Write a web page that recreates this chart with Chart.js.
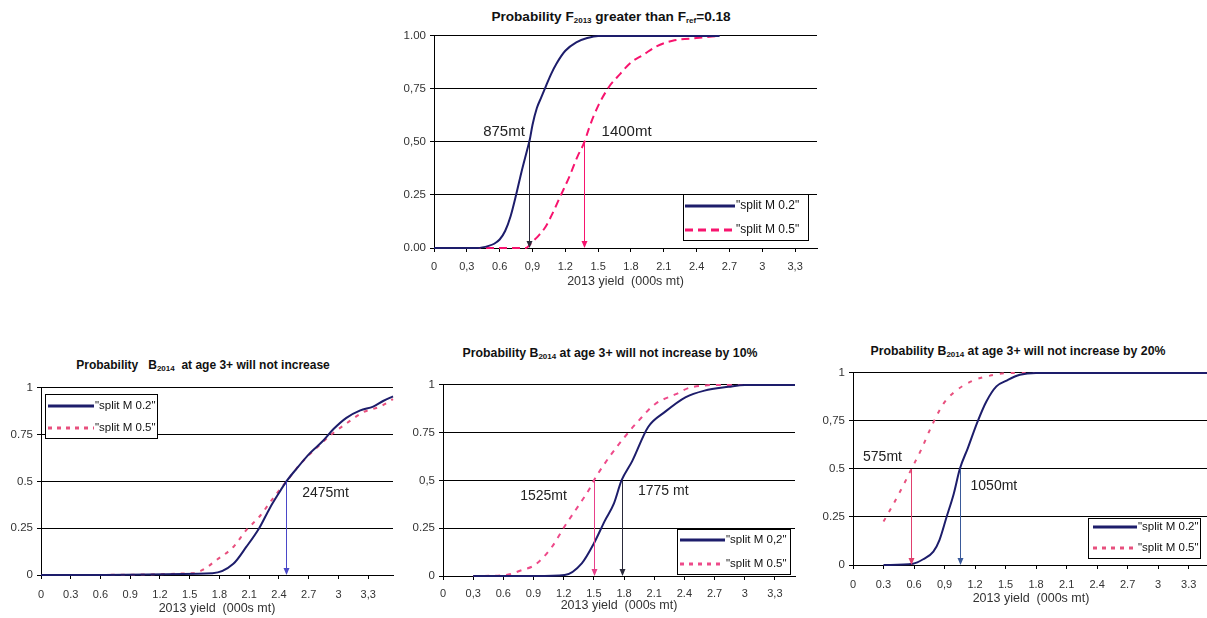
<!DOCTYPE html>
<html><head><meta charset="utf-8">
<script src="https://cdn.jsdelivr.net/npm/chart.js@4.4.1/dist/chart.umd.min.js"></script>
<style>
html,body{margin:0;padding:0;background:#fff;}
body{width:1207px;height:618px;overflow:hidden;position:relative;font-family:"Liberation Sans",Arial,sans-serif;}
.box{position:absolute;}
.box canvas{display:block;}
.title{position:absolute;font-weight:bold;font-size:12.3px;color:#111;white-space:nowrap;transform:translate(-50%,-50%);line-height:14px;}
.title.big{font-size:13.6px;}
.title.bl{font-size:12px;}
.title sub{font-size:8px;vertical-align:-2px;line-height:0;}
</style></head><body>
<div class="title big" style="left:611px;top:17px">Probability F<sub>2013</sub> greater than F<sub>ref</sub>=0.18</div>
<div class="title bl" style="left:203px;top:365px">Probability&nbsp;&nbsp; B<sub>2014</sub>&nbsp; at age 3+ will not increase</div>
<div class="title" style="left:610px;top:353px">Probability B<sub>2014</sub> at age 3+ will not increase by 10%</div>
<div class="title" style="left:1018px;top:351px">Probability B<sub>2014</sub> at age 3+ will not increase by 20%</div>

<div class="box" style="left:380px;top:25px"><canvas id="cTop" width="450" height="264"></canvas></div>
<div class="box" style="left:0px;top:377px"><canvas id="cBL" width="403" height="239"></canvas></div>
<div class="box" style="left:410px;top:374px"><canvas id="cBM" width="395" height="239"></canvas></div>
<div class="box" style="left:810px;top:362px"><canvas id="cBR" width="399" height="244"></canvas></div>

<script>
// ---------- shared axis values ----------
const xTickValues = [0, 0.3, 0.6, 0.9, 1.2, 1.5, 1.8, 2.1, 2.4, 2.7, 3.0, 3.3];
const yTickValues = [0, 0.25, 0.5, 0.75, 1];
const xAxisTitle = '2013 yield  (000s mt)';

// ---------- top chart: Probability F2013 > Fref ----------
const topXLabels = ['0', '0,3', '0.6', '0,9', '1.2', '1.5', '1.8', '2.1', '2.4', '2.7', '3', '3,3'];
const topYLabels = ['0.00', '0.25', '0,50', '0,75', '1.00'];
const topLegend = ['"split M 0.2"', '"split M 0.5"'];
const topM02x = [0, 0.4, 0.5, 0.55, 0.6, 0.65, 0.7, 0.75, 0.8, 0.85, 0.875, 0.9, 0.94, 0.98, 1.02, 1.07, 1.12, 1.2, 1.3, 1.4, 1.5, 2.61];
const topM02y = [0, 0, 0.01, 0.02, 0.04, 0.08, 0.15, 0.25, 0.36, 0.46, 0.51, 0.58, 0.66, 0.71, 0.76, 0.82, 0.87, 0.93, 0.97, 0.99, 1.0, 1.0];
const topM05x = [0, 0.84, 0.9, 0.95, 1.02, 1.08, 1.16, 1.24, 1.31, 1.375, 1.42, 1.5, 1.6, 1.7, 1.8, 1.91, 2.03, 2.18, 2.4, 2.61];
const topM05y = [0, 0, 0.03, 0.055, 0.1, 0.16, 0.25, 0.34, 0.43, 0.5, 0.57, 0.67, 0.76, 0.82, 0.875, 0.91, 0.95, 0.977, 0.99, 1.0];

// ---------- bottom-left: B2014 will not increase ----------
const blXLabels = ['0', '0.3', '0.6', '0.9', '1.2', '1.5', '1.8', '2.1', '2.4', '2.7', '3', '3,3'];
const blYLabels = ['0', '0.25', '0.5', '0.75', '1'];
const blLegend = ['"split M 0.2"', '"split M 0.5"'];
const blM02x = [0, 1.73, 1.94, 2.07, 2.2, 2.31, 2.39, 2.475, 2.58, 2.71, 2.85, 2.95, 3.08, 3.22, 3.35, 3.45, 3.55];
const blM02y = [0, 0.01, 0.06, 0.15, 0.25, 0.36, 0.43, 0.5, 0.57, 0.65, 0.72, 0.78, 0.84, 0.88, 0.9, 0.93, 0.955];
const blM05x = [0.3, 1.53, 1.63, 1.77, 1.94, 2.07, 2.2, 2.34, 2.475, 2.61, 2.78, 2.95, 3.08, 3.25, 3.42, 3.55];
const blM05y = [0, 0.01, 0.027, 0.08, 0.15, 0.24, 0.31, 0.41, 0.5, 0.59, 0.68, 0.76, 0.81, 0.87, 0.9, 0.94];

// ---------- bottom-middle: not increase by 10% ----------
const bmXLabels = ['0', '0,3', '0.6', '0.9', '1.2', '1.5', '1.8', '2.1', '2.4', '2.7', '3', '3,3'];
const bmYLabels = ['0', '0.25', '0,5', '0.75', '1'];
const bmLegend = ['"split M 0,2"', '"split M 0.5"'];
const bmM02x = [0.3, 0.92, 1.21, 1.38, 1.5, 1.61, 1.7, 1.775, 1.88, 2.04, 2.21, 2.41, 2.6, 2.84, 3.0, 3.3, 3.5];
const bmM02y = [0, 0, 0.005, 0.066, 0.17, 0.29, 0.38, 0.5, 0.6, 0.78, 0.86, 0.935, 0.97, 0.99, 1.0, 1.0, 1.0];
const bmM05x = [0.3, 0.62, 0.78, 0.92, 1.08, 1.21, 1.35, 1.45, 1.5, 1.65, 1.81, 1.94, 2.11, 2.31, 2.47, 2.8, 3.0];
const bmM05y = [0, 0.005, 0.03, 0.06, 0.15, 0.26, 0.37, 0.45, 0.5, 0.62, 0.73, 0.81, 0.9, 0.95, 0.988, 1.0, 1.0];

// ---------- bottom-right: not increase by 20% ----------
const brXLabels = ['0', '0.3', '0.6', '0,9', '1.2', '1.5', '1.8', '2.1', '2.4', '2.7', '3', '3.3'];
const brYLabels = ['0', '0.25', '0.5', '0,75', '1'];
const brLegend = ['"split M 0.2"', '"split M 0.5"'];
const brM02x = [0.3, 0.59, 0.69, 0.79, 0.85, 0.92, 0.99, 1.05, 1.13, 1.22, 1.31, 1.41, 1.51, 1.64, 1.8, 3.5];
const brM02y = [0, 0.007, 0.03, 0.07, 0.13, 0.25, 0.37, 0.5, 0.61, 0.74, 0.85, 0.93, 0.96, 0.99, 1.0, 1.0];
const brM05x = [0.3, 0.39, 0.49, 0.575, 0.67, 0.77, 0.89, 1.02, 1.18, 1.35, 1.54, 1.8];
const brM05y = [0.226, 0.31, 0.41, 0.5, 0.6, 0.72, 0.84, 0.91, 0.96, 0.986, 1.0, 1.0];

// ---------- helpers ----------
const FONT = '"Liberation Sans", Arial, sans-serif';
const NAVY = '#1d1d6b';
const pts = (xs, ys) => xs.map((x, i) => ({ x: x, y: ys[i] }));

function overlay(o) {
  return {
    id: 'overlay',
    afterDatasetsDraw(chart) {
      const { ctx, chartArea: a, scales: { x, y } } = chart;
      ctx.save();
      o.arrows.forEach(ar => {
        const px = Math.round(x.getPixelForValue(ar.x)) + 0.5;
        const py0 = y.getPixelForValue(ar.from);
        const py1 = y.getPixelForValue(0);
        ctx.strokeStyle = ar.color; ctx.lineWidth = 1;
        ctx.beginPath(); ctx.moveTo(px, py0); ctx.lineTo(px, py1 - 5); ctx.stroke();
        ctx.fillStyle = ar.color;
        ctx.beginPath(); ctx.moveTo(px, py1); ctx.lineTo(px - 3, py1 - 7); ctx.lineTo(px + 3, py1 - 7); ctx.closePath(); ctx.fill();
      });
      ctx.fillStyle = '#222';
      ctx.font = o.noteSize + 'px ' + FONT;
      ctx.textAlign = 'center'; ctx.textBaseline = 'middle';
      o.notes.forEach(n => ctx.fillText(n.text, x.getPixelForValue(n.x), y.getPixelForValue(n.y)));
      const L = o.legend;
      const bx = Math.round(a.left + L.x), by = Math.round(a.top + L.y);
      ctx.fillStyle = '#fff'; ctx.fillRect(bx, by, L.w, L.h);
      ctx.strokeStyle = '#000'; ctx.lineWidth = 1; ctx.strokeRect(bx + 0.5, by + 0.5, L.w, L.h);
      ctx.font = L.font + 'px ' + FONT; ctx.textAlign = 'left'; ctx.textBaseline = 'middle';
      chart.data.datasets.forEach((ds, i) => {
        const ry = by + L.rows[i];
        ctx.strokeStyle = ds.borderColor; ctx.lineWidth = 3;
        ctx.setLineDash(i === 1 ? L.dash : []);
        ctx.beginPath(); ctx.moveTo(bx + L.l0, ry); ctx.lineTo(bx + L.l1, ry); ctx.stroke();
        ctx.setLineDash([]);
        ctx.fillStyle = '#111';
        ctx.fillText(ds.label, bx + L.l1 + 1, ry);
      });
      ctx.restore();
    }
  };
}

function makeChart(id, o) {
  return new Chart(document.getElementById(id).getContext('2d'), {
    type: 'line',
    data: {
      datasets: [
        { label: o.legendText[0], data: pts(o.ax, o.ay), borderColor: NAVY, borderWidth: 2, pointRadius: 0,
          cubicInterpolationMode: 'monotone', fill: false, clip: 4 },
        { label: o.legendText[1], data: pts(o.bx, o.by), borderColor: o.pink, borderWidth: 2, borderDash: o.dash,
          pointRadius: 0, cubicInterpolationMode: 'monotone', fill: false, clip: 4 }
      ]
    },
    options: {
      responsive: false, animation: false, devicePixelRatio: 1,
      layout: { autoPadding: false, padding: { top: 10, right: o.padRight, left: 0, bottom: 0 } },
      plugins: { legend: { display: false }, tooltip: { enabled: false }, title: { display: false } },
      scales: {
        x: {
          type: 'linear', min: 0, max: o.xMax,
          afterBuildTicks: s => { s.ticks = xTickValues.map(v => ({ value: v })); },
          afterFit: s => { s.height = o.xH; },
          ticks: { callback: (v, i) => o.xLabels[i], padding: o.xPad, maxRotation: 0, autoSkip: false,
                   font: { size: 11, family: FONT, lineHeight: 1.2 }, color: '#333' },
          grid: { drawOnChartArea: false, drawTicks: true, tickLength: 4, color: '#000' },
          border: { display: true, color: '#000', width: 1 },
          title: { display: true, text: xAxisTitle, padding: { top: 0, bottom: 0 },
                   font: { size: 12.5, family: FONT, lineHeight: 1.2 }, color: '#333' }
        },
        y: {
          type: 'linear', min: 0, max: 1,
          afterBuildTicks: s => { s.ticks = yTickValues.map(v => ({ value: v })); },
          afterFit: s => { s.width = o.yW; },
          ticks: { callback: (v, i) => o.yLabels[i], padding: 4, font: { size: 11.5, family: FONT }, color: '#333' },
          grid: { color: '#000', lineWidth: 1, drawTicks: true, tickLength: 4 },
          border: { display: true, color: '#000', width: 1 }
        }
      }
    },
    plugins: [overlay(o)]
  });
}

makeChart('cTop', {
  ax: topM02x, ay: topM02y, bx: topM05x, by: topM05y, legendText: topLegend,
  xLabels: topXLabels, yLabels: topYLabels, xMax: 3.5, yW: 54, padRight: 13, xH: 41, xPad: 8,
  pink: '#f7146e', dash: [8, 5], noteSize: 15,
  arrows: [{ x: 0.865, from: 0.5, color: '#2a2a3a' }, { x: 1.375, from: 0.5, color: '#f7146e' }],
  notes: [{ text: '875mt', x: 0.64, y: 0.546 }, { text: '1400mt', x: 1.76, y: 0.546 }],
  legend: { x: 249, y: 158, w: 125, h: 46, rows: [12, 36], l0: 2, l1: 52, dash: [8, 5], font: 12 }
});

makeChart('cBL', {
  ax: blM02x, ay: blM02y, bx: blM05x, by: blM05y, legendText: blLegend,
  xLabels: blXLabels, yLabels: blYLabels, xMax: 3.55, yW: 41, padRight: 10, xH: 41, xPad: 9,
  pink: '#e8507e', dash: [4, 6], noteSize: 14,
  arrows: [{ x: 2.475, from: 0.5, color: '#4a48c8' }],
  notes: [{ text: '2475mt', x: 2.87, y: 0.437 }],
  legend: { x: 4, y: 6, w: 112, h: 44, rows: [12, 34], l0: 3, l1: 49, dash: [4, 5], font: 11.5 }
});

makeChart('cBM', {
  ax: bmM02x, ay: bmM02y, bx: bmM05x, by: bmM05y, legendText: bmLegend,
  xLabels: bmXLabels, yLabels: bmYLabels, xMax: 3.5, yW: 33, padRight: 10, xH: 37, xPad: 7,
  pink: '#ee4a8a', dash: [5, 6], noteSize: 14,
  arrows: [{ x: 1.5, from: 0.5, color: '#e8408a' }, { x: 1.775, from: 0.5, color: '#2a2a3a' }],
  notes: [{ text: '1525mt', x: 1.0, y: 0.42 }, { text: '1775 mt', x: 2.19, y: 0.445 }],
  legend: { x: 234, y: 144, w: 113, h: 45, rows: [11, 35], l0: 3, l1: 48, dash: [4, 5], font: 11.5 }
});

makeChart('cBR', {
  ax: brM02x, ay: brM02y, bx: brM05x, by: brM05y, legendText: brLegend,
  xLabels: brXLabels, yLabels: brYLabels, xMax: 3.5, yW: 43, padRight: 0, xH: 41, xPad: 9,
  pink: '#e8507e', dash: [4, 7], noteSize: 14,
  arrows: [{ x: 0.575, from: 0.5, color: '#e0406e' }, { x: 1.05, from: 0.5, color: '#3a5a9a' }],
  notes: [{ text: '575mt', x: 0.29, y: 0.56 }, { text: '1050mt', x: 1.385, y: 0.41 }],
  legend: { x: 235, y: 145, w: 112, h: 40, rows: [9, 30], l0: 5, l1: 49, dash: [4, 5], font: 11.5 }
});
</script>
</body></html>
